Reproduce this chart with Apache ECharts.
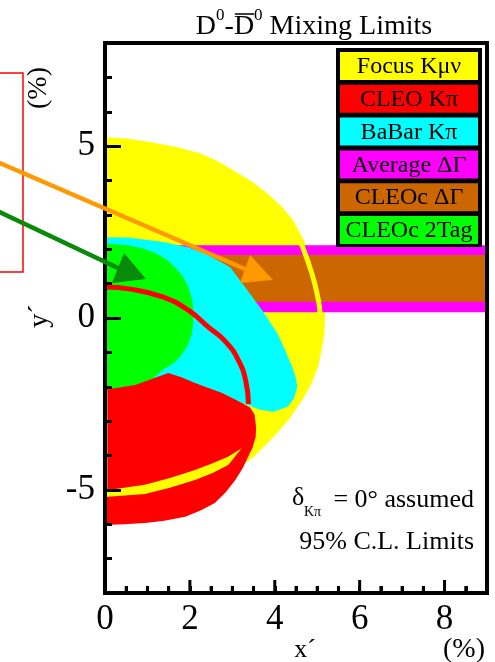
<!DOCTYPE html>
<html><head><meta charset="utf-8">
<script src="https://cdn.jsdelivr.net/npm/echarts@6/dist/echarts.min.js"></script>
<style>html,body{margin:0;padding:0;background:#fff}#c{width:495px;height:662px}</style>
</head><body><div id="c"></div>
<script>
// ---------- data (units: %) ----------
const xTickValues = [0, 2, 4, 6, 8];
const xMinorTickValues = [0.5, 1, 1.5, 2.5, 3, 3.5, 4.5, 5, 5.5, 6.5, 7, 7.5, 8.5];
const yTickValues = [-5, 0, 5];
const legendLabels = ['Focus Kμν', 'CLEO Kπ', 'BaBar Kπ', 'Average ΔΓ', 'CLEOc ΔΓ', 'CLEOc 2Tag'];
const legendColors = ['#ffff00', '#ff0000', '#00ffff', '#ff00ff', '#cc6600', '#00ff00'];

const focusRegion = [[0,-5.4],[0,5.26],[0.5,5.22],[1.06,5.12],[1.65,4.98],[2.24,4.79],[2.65,4.57],[3.02,4.3],[3.45,3.98],[3.82,3.63],[4.15,3.26],[4.43,2.85],[4.72,2.17],[4.92,1.5],[5.08,0.85],[5.19,0.23],[5.17,-0.44],[5.1,-0.95],[5.02,-1.42],[4.86,-1.92],[4.65,-2.38],[4.38,-2.88],[4.06,-3.34],[3.78,-3.7],[3.5,-4.04],[3.0,-4.5],[2.0,-5.05],[1.0,-5.3]];
const focusEdgeInBand = [[4.58,2.3],[4.78,1.65],[4.93,1.05],[5.03,0.5],[5.07,0.1]];
const focusGap = [[0,-5.02],[0.94,-4.85],[1.55,-4.65],[2.12,-4.42],[2.55,-4.22],[2.91,-4.03],[3.22,-3.79],[2.91,-4.27],[2.55,-4.5],[2.12,-4.71],[1.55,-4.93],[0.94,-5.12],[0,-5.21]];
const avgDeltaGammaBand = [[0,0.17],[9,0.17],[9,2.12],[0,2.12]];
const cleocDeltaGammaBand = [[0,0.47],[9,0.47],[9,1.83],[0,1.83]];
const babarRegion = [[0,-2.2],[0,2.35],[0.54,2.34],[1.34,2.22],[1.96,2.06],[2.43,1.83],[2.95,1.48],[3.3,0.9],[3.5,0.56],[3.7,0.23],[4.06,-0.44],[4.25,-0.95],[4.41,-1.42],[4.5,-1.75],[4.53,-2.0],[4.45,-2.35],[4.3,-2.58],[3.97,-2.73],[3.66,-2.67],[3.3,-2.5],[2.5,-2.1],[1.5,-1.7]];
const cleocTagRegion = [[0,-2.3],[0,2.17],[0.54,2.12],[0.9,2.02],[1.18,1.89],[1.45,1.7],[1.65,1.48],[1.84,1.2],[1.96,0.9],[2.05,0.55],[2.08,0.23],[2.08,-0.1],[2.05,-0.44],[1.95,-0.8],[1.77,-1.13],[1.6,-1.33],[1.37,-1.5],[1.0,-1.9]];
const cleoRegion = [[0,-2.09],[0.71,-1.95],[1.15,-1.75],[1.49,-1.6],[1.8,-1.72],[2.12,-1.89],[2.76,-2.18],[3.23,-2.47],[3.42,-2.6],[3.52,-2.8],[3.54,-2.97],[3.56,-3.2],[3.55,-3.46],[3.48,-3.76],[3.37,-4.04],[3.24,-4.38],[3.07,-4.71],[2.85,-5.06],[2.59,-5.38],[2.25,-5.6],[1.89,-5.78],[1.4,-5.9],[0.94,-5.96],[0.45,-6.0],[0,-6.02]];
const cleoArc = [[0,0.9],[0.6,0.84],[1.34,0.62],[1.96,0.23],[2.43,-0.26],[2.85,-0.7],[3.15,-1.25],[3.32,-1.85],[3.38,-2.5]];
const cleoEdge = [[0.05,-2.1],[0.05,-5.0]];

// ---------- layout ----------
const G = {left:105, top:43, width:382, height:550};
const SERIF = '"Liberation Serif", "Times New Roman", serif';
const ctx = document.createElement('canvas').getContext('2d');
function tw(t, size){ ctx.font = size + 'px ' + SERIF; return ctx.measureText(t).width; }

function polygonSeries(name, pts, color, z){
  return {
    type:'custom', name:name, z:z, clip:true, silent:true,
    data: pts, encode:{x:0, y:1},
    renderItem: function(params, api){
      if (params.dataIndex !== 0) return null;
      return { type:'polygon', shape:{ points: pts.map(p => api.coord(p)) }, style:{ fill: color } };
    }
  };
}
function lineSeries(name, pts, color, width, z){
  return { type:'line', name:name, z:z, data:pts, symbol:'none', smooth:true, silent:true,
    lineStyle:{ color:color, width:width }, clip:true };
}

const series = [
  polygonSeries('Focus Kμν', focusRegion, legendColors[0], 1),
  polygonSeries('Average ΔΓ', avgDeltaGammaBand, legendColors[3], 2),
  polygonSeries('CLEOc ΔΓ', cleocDeltaGammaBand, legendColors[4], 3),
  lineSeries('Focus edge', focusEdgeInBand, legendColors[0], 5, 3.5),
  polygonSeries('BaBar Kπ', babarRegion, legendColors[2], 4),
  polygonSeries('CLEOc 2Tag', cleocTagRegion, legendColors[5], 5),
  polygonSeries('CLEO Kπ', cleoRegion, legendColors[1], 6),
  lineSeries('CLEO arc', cleoArc, legendColors[1], 5, 7),
  polygonSeries('Focus gap', focusGap, legendColors[0], 8),
  lineSeries('CLEO edge', cleoEdge, '#d08030', 1.5, 9)
];

// ---------- graphics: frame, legend, texts, arrows ----------
const graphic = [];
graphic.push({ type:'rect', z:100, shape:{x:G.left, y:G.top, width:G.width, height:G.height},
  style:{ fill:'transparent', stroke:'#000', lineWidth:4 } });

// legend
const LX = 336, LY = 48, LW = 146, CH = 28, STEP = 32.8;
graphic.push({ type:'rect', z:101, shape:{x:LX, y:LY, width:LW, height:199}, style:{fill:'#000'} });
legendLabels.forEach(function(lbl, i){
  graphic.push({ type:'rect', z:102, shape:{x:LX+4, y:LY+4+i*STEP, width:LW-8, height:CH}, style:{fill:legendColors[i]} });
  graphic.push({ type:'text', z:103, style:{ text:lbl, x:LX+LW/2, y:LY+4+i*STEP+CH/2+1, font:'24px '+SERIF, fill:'#000',
    textAlign:'center', textVerticalAlign:'middle', align:'center', verticalAlign:'middle' } });
});

// title
(function(){
  const big = 28, sm = 17;
  const parts = [['D',big],['0',sm],['-',big],['D',big],['0',sm],[' Mixing Limits',big]];
  let total = parts.reduce((s,p)=>s+tw(p[0],p[1]),0);
  let x = 314 - total/2;
  parts.forEach(function(p, i){
    const w = tw(p[0], p[1]);
    graphic.push({ type:'text', z:110, style:{ text:p[0], x:x, y: p[1]===sm ? 24 : 41, font:p[1]+'px '+SERIF, fill:'#000',
      textAlign:'left', textVerticalAlign:'bottom', align:'left', verticalAlign:'bottom' } });
    if (i === 3) graphic.push({ type:'line', z:110, shape:{x1:x+1, y1:14, x2:x+w, y2:14}, style:{stroke:'#000', lineWidth:1.5} });
    x += w;
  });
})();

function txt(t, x, y, size, align, rot){
  graphic.push({ type:'text', z:110, x:x, y:y, rotation: rot||0,
    style:{ text:t, x:0, y:0, font:size+'px '+SERIF, fill:'#000',
      textAlign:align, textVerticalAlign:'middle', align:align, verticalAlign:'middle' } });
}
txt('(%)', 39, 88, 28, 'center', Math.PI/2);
txt('y´', 40, 316, 28, 'center', Math.PI/2);
txt('x´', 305, 650, 26, 'center');
txt('(%)', 464, 650, 28, 'center');
txt('= 0° assumed', 474, 500, 26, 'right');
txt('95% C.L. Limits', 474, 542, 26, 'right');
txt('δ', 292, 498, 26, 'left');
txt('Kπ', 304, 512, 14, 'left');

// left-side annotation box and arrows
graphic.push({ type:'rect', z:120, shape:{x:-10, y:73, width:33, height:199}, style:{fill:'transparent', stroke:'#ff0000', lineWidth:1.5} });
function arrow(x0,y0,tip,c1,c2,color){
  const mx = (c1[0]+c2[0])/2, my = (c1[1]+c2[1])/2;
  graphic.push({ type:'line', z:130, shape:{x1:x0,y1:y0,x2:mx,y2:my}, style:{stroke:color, lineWidth:4.5} });
  graphic.push({ type:'polygon', z:131, shape:{points:[tip,c1,c2]}, style:{fill:color} });
}
arrow(-5, 161, [273,280], [250,255], [240,283], '#ff9900');
arrow(-5, 210, [146,279], [124,253], [112,283], '#0a8a0a');

function tickStyle(){ return { color:'#000', width:3 }; }
function noLine(){ return { show:false, onZero:false }; }
const option = {
  animation:false,
  grid:{ left:G.left, top:G.top, width:G.width, height:G.height, show:false },
  xAxis:[
    { type:'value', min:0, max:9, interval:0.5, position:'bottom', z:10,
      axisLine:noLine(), splitLine:{show:false},
      axisTick:{ show:true, inside:true, length:7, lineStyle:tickStyle() },
      axisLabel:{ margin:9, fontFamily:SERIF, fontSize:35, color:'#000', customValues: xTickValues } }
  ],
  yAxis:[
    { type:'value', min:-8, max:8, interval:1, position:'left', z:10,
      axisLine:noLine(), splitLine:{show:false},
      axisTick:{ show:true, inside:true, length:7, lineStyle:tickStyle() }, axisLabel:{show:false} },
    { type:'value', min:-8, max:8, interval:1, position:'left', z:10,
      axisLine:noLine(), splitLine:{show:false},
      axisTick:{ show:true, inside:true, length:16, lineStyle:tickStyle(), customValues: yTickValues },
      axisLabel:{ margin:10, fontFamily:SERIF, fontSize:35, color:'#000', customValues: yTickValues } }
  ],
  series: series,
  graphic: graphic
};
const chart = echarts.init(document.getElementById('c'), null, {renderer:'canvas'});
chart.setOption(option);

// x-axis tick marks on the bottom frame, placed through the chart's own x scale
(function(){
  function toPx(v){
    try {
      const p = chart.convertToPixel({xAxisIndex:0, yAxisIndex:0}, [v, -8]);
      if (p && isFinite(p[0]) && isFinite(p[1])) return p;
    } catch(e) {}
    return [G.left + v / 9 * G.width, G.top + G.height];
  }
  const ticks = [];
  xTickValues.forEach(v => { const p = toPx(v); ticks.push({ type:'line', z:300, shape:{x1:p[0], y1:p[1], x2:p[0], y2:p[1]-13}, style:{stroke:'#000', lineWidth:3} }); });
  xMinorTickValues.forEach(v => { const p = toPx(v); ticks.push({ type:'line', z:300, shape:{x1:p[0], y1:p[1], x2:p[0], y2:p[1]-7}, style:{stroke:'#000', lineWidth:3} }); });
  chart.setOption({ graphic: graphic.concat(ticks) });
})();
</script></body></html>
